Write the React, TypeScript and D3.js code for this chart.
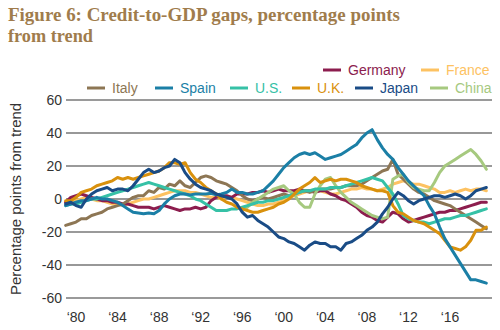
import React from "react";
import * as d3 from "d3";

const yTicks = [60, 40, 20, 0, -20, -40, -60];
const xTickYears = [1980, 1984, 1988, 1992, 1996, 2000, 2004, 2008, 2012, 2016];
const xTickLabels = ["‘80", "‘84", "‘88", "‘92", "‘96", "‘00", "‘04", "‘08", "‘12", "‘16"];

// half-yearly values starting 1979.0
const spain = [-4, -3, -2, -1, -1, 0, 1, 0, 0, -1, -2, -4, -6, -8, -8.5, -9, -8.5, -9, -7, -3, 0, 2, 3, 3, 2.5, 3, 3, 3, 3.5, 2.5, 3, 4, 6, 4, 4, 3, 3, 4, 5, 8, 11, 15, 19, 22, 25, 27, 28, 27, 28, 26, 24, 25, 26, 27, 29, 31, 33, 37, 40, 42, 36, 31, 27, 24, 19, 15, 11, 8, 5, 2, -4, -9, -17, -24, -29, -34, -39, -44, -49, -49, -50, -51];
const japan = [-3, -2, -4, -5, 0, 3, 5, 6, 7, 5, 6, 6, 5, 8, 12, 16, 18, 16, 17, 19, 20, 24, 22, 16, 12, 9, 7, 6, 5, 3, 2, 1, 0, -3, -8, -11, -10, -13, -15, -17, -20, -23, -24, -26, -27, -29, -31, -28, -26, -27, -27, -29, -29, -31, -27, -26, -24, -22, -19, -17, -14, -9, -5, 0, 4, 2, -1, -3, -1, 0, 1, 2, 2, 1, 2, 3, 2, 0, 2, 5, 6, 7];
const italy = [-16, -15, -14, -12, -12, -10, -9, -8, -6, -5, -4, -3, -1, 1, 2, 2, 5, 4, 7, 6, 9, 8, 11, 8, 7, 10, 13, 14, 13, 11, 10, 9, 7, 5, 2, 0, -1, 0, 1, 0, 1, 2, 3, 2, 3, 4, 5, 4, 5, 6, 6, 6, 7, 7, 8, 8, 8, 9, 11, 13, 15, 17, 18, 24, 15, 12, 9, 6, 4, 3, 1, -1, -2, -3, -4, -6, -8, -10, -12, -14, -16, -18];
const germany = [-2, 1, 2, 3, 2, 1, 0, -1, -1, -2, -2, -3, -3, -4, -5, -5, -5, -6, -5, -4, -5, -6, -7, -6, -6, -5, -6, -5, -1, 1, 2, 2, 1, 3, 3, 3, 4, 4, 5, 4, 5, 6, 5, 5, 5, 6, 5, 5, 4, 5, 5, 3, 2, 0, -1, -3, -5, -8, -10, -11, -13, -14, -11, -8, -9, -12, -14, -13, -12, -11, -10, -9, -8, -8, -7, -7, -6, -5, -4, -3, -2, -2];
const us = [-4, -3, -3, -2, -1, 0, 0, 1, 2, 3, 4, 5, 6, 7, 8, 9, 10, 9, 8, 7, 6, 5, 4, 3, 2, 0, -1, -3, -5, -7, -7, -7, -6, -6, -5, -4, -3, -2, -2, -1, -1, 0, 1, 2, 3, 4, 5, 5, 6, 6, 6, 7, 7, 7, 8, 9, 10, 11, 12, 13, 12, 11, 7, 3, -3, -10, -12, -13, -14, -14, -15, -14, -13, -12, -12, -11, -10, -10, -9, -8, -7, -6];
const uk = [-1, -1, 1, 4, 5, 6, 8, 9, 10, 11, 13, 12, 13, 12, 13, 14, 15, 16, 17, 19, 22, 22, 21, 22, 16, 12, 10, 7, 5, 3, 0, -2, -3, -5, -6, -7, -8, -8, -7, -6, -5, -3, -2, 0, 3, 6, 8, 10, 13, 10, 11, 12, 11, 12, 12, 11, 10, 8, 7, 6, 5, 5, 4, -4, -8, -9, -11, -13, -14, -15, -17, -19, -21, -25, -29, -30, -31, -29, -25, -19, -19, -17];
const france = [-2, -2, -1, 0, 1, 0, -1, -1, -2, -3, -3, -4, -3, -2, -1, 0, 0, 1, 2, 3, 4, 5, 5, 5, 4, 4, 3, 2, 1, 1, 0, 1, 1, 0, -1, -2, -3, -4, -4, -3, -3, -2, -1, 1, 2, 3, 4, 5, 5, 5, 4, 3, 3, 4, 5, 6, 6, 7, 6, 6, 5, 6, 7, 9, 10, 11, 10, 9, 9, 8, 7, 6, 4, 4, 5, 4, 5, 6, 5, 6, 6, 5];
// half-yearly values starting 1996.0
const china = [-7, -5, -2, 0, 2, 4, 6, 7, 8, 5, 3, -2, -5, -5, 3, 8, 12, 13, 8, 4, 1, -2, -4, -6, -8, -10, -11, -12, -11, 12, 14, 15, 10, 7, 6, 5, 5, 10, 16, 20, 22, 24, 26, 28, 30, 27, 23, 18];

const seriesList = [
  { name: "France", values: france, start: 1979, color: "#fdc262" },
  { name: "Germany", values: germany, start: 1979, color: "#8c1d4e" },
  { name: "Italy", values: italy, start: 1979, color: "#8d7654" },
  { name: "China", values: china, start: 1996, color: "#a6c97f" },
  { name: "U.S.", values: us, start: 1979, color: "#36c1a6" },
  { name: "U.K.", values: uk, start: 1979, color: "#d9910d" },
  { name: "Spain", values: spain, start: 1979, color: "#1b7fa6" },
  { name: "Japan", values: japan, start: 1979, color: "#1a4c86" },
];

const legendRow1 = ["Germany", "France"];
const legendRow2 = ["Italy", "Spain", "U.S.", "U.K.", "Japan", "China"];

export default function App() {
  const x = d3.scaleLinear().domain([1980, 2016]).range([76, 450]);
  const y = d3.scaleLinear().domain([-60, 60]).range([298, 100]);
  const line = d3
    .line<[number, number]>()
    .x((d) => x(d[0]))
    .y((d) => y(d[1]))
    .curve(d3.curveLinear);

  const colorOf = (n: string) => seriesList.find((s) => s.name === n)!.color;
  const sans = "'Liberation Sans', Arial, sans-serif";

  const row1X = [323, 421];
  const row2X = [87, 155, 230, 292, 355, 430];

  return (
    <svg
      width={500}
      height={330}
      style={{ position: "absolute", left: 0, top: 0, background: "#fff" }}
    >
      <text
        x={8}
        y={21}
        fontFamily="'Liberation Serif', 'DejaVu Serif', serif"
        fontWeight="bold"
        fontSize={19}
        fill="#a07c4c"
        textLength={392}
        lengthAdjust="spacingAndGlyphs"
      >
        Figure 6: Credit-to-GDP gaps, percentage points
      </text>
      <text
        x={8}
        y={42}
        fontFamily="'Liberation Serif', 'DejaVu Serif', serif"
        fontWeight="bold"
        fontSize={19}
        fill="#a07c4c"
        textLength={85}
        lengthAdjust="spacingAndGlyphs"
      >
        from trend
      </text>

      {/* legend */}
      {legendRow1.map((n, i) => (
        <g key={n}>
          <line x1={row1X[i]} x2={row1X[i] + 18} y1={70} y2={70} stroke={colorOf(n)} strokeWidth={3} />
          <text x={row1X[i] + 25} y={75} fontFamily={sans} fontSize={14} fill={colorOf(n)}>
            {n}
          </text>
        </g>
      ))}
      {legendRow2.map((n, i) => (
        <g key={n}>
          <line x1={row2X[i]} x2={row2X[i] + 18} y1={88} y2={88} stroke={colorOf(n)} strokeWidth={3} />
          <text x={row2X[i] + 25} y={93} fontFamily={sans} fontSize={14} fill={colorOf(n)}>
            {n}
          </text>
        </g>
      ))}

      {/* gridlines */}
      {yTicks.map((t, i) => (
        <g key={t}>
          <line
            x1={66}
            x2={492}
            y1={y(t)}
            y2={y(t)}
            stroke={i % 2 === 0 ? "#9a9a9a" : "#333"}
            strokeWidth={i % 2 === 0 ? 2 : 1.2}
          />
          <text
            x={62}
            y={y(t) + 5}
            textAnchor="end"
            fontFamily={sans}
            fontSize={14}
            fill="#333"
          >
            {t}
          </text>
        </g>
      ))}

      {xTickYears.map((yr, i) => (
        <text
          key={yr}
          x={x(yr)}
          y={322}
          textAnchor="middle"
          fontFamily={sans}
          fontSize={14}
          fill="#333"
        >
          {xTickLabels[i]}
        </text>
      ))}

      <text
        transform="translate(21,199) rotate(-90)"
        textAnchor="middle"
        fontFamily={sans}
        fontSize={14}
        fill="#333"
        textLength={192}
        lengthAdjust="spacingAndGlyphs"
      >
        Percentage points from trend
      </text>

      {/* series */}
      {seriesList.map((s) => {
        const pts: [number, number][] = s.values.map((v, i) => [s.start + i * 0.5, v]);
        return (
          <path
            key={s.name}
            d={line(pts) || ""}
            fill="none"
            stroke={s.color}
            strokeWidth={3}
            strokeLinejoin="round"
            strokeLinecap="round"
          />
        );
      })}
    </svg>
  );
}
